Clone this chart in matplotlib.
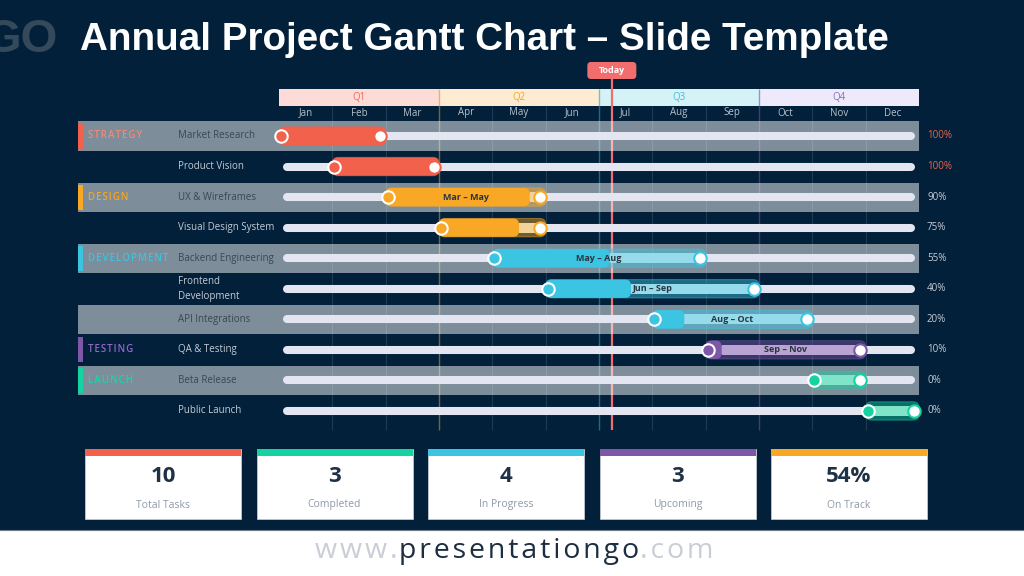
import matplotlib
matplotlib.use('Agg')

import matplotlib.pyplot as plt
from matplotlib.patches import Rectangle, FancyBboxPatch

plt.rcParams['font.family'] = ['Open Sans', 'DejaVu Sans']

BG = '#02203a'

# ---- data ----
tasks = ['Market Research', 'Product Vision', 'UX & Wireframes', 'Visual Design System',
         'Backend Engineering', 'Frontend\nDevelopment', 'API Integrations', 'QA & Testing',
         'Beta Release', 'Public Launch']
phases = ['STRATEGY', 'STRATEGY', 'DESIGN', 'DESIGN', 'DEVELOPMENT', 'DEVELOPMENT',
          'DEVELOPMENT', 'TESTING', 'LAUNCH', 'LAUNCH']
start = [0, 1, 2, 3, 4, 5, 7, 8, 10, 11]      # month index (Jan = 0)
end = [2, 3, 5, 5, 8, 9, 10, 11, 11, 12]
progress = [100, 100, 90, 75, 55, 40, 20, 10, 0, 0]
span_labels = ['', '', 'Mar – May', '', 'May – Aug', 'Jun – Sep', 'Aug – Oct', 'Sep – Nov', '', '']
months = ['Jan', 'Feb', 'Mar', 'Apr', 'May', 'Jun', 'Jul', 'Aug', 'Sep', 'Oct', 'Nov', 'Dec']
quarters = ['Q1', 'Q2', 'Q3', 'Q4']
today = 6.25
stat_values = ['10', '3', '4', '3', '54%']
stat_labels = ['Total Tasks', 'Completed', 'In Progress', 'Upcoming', 'On Track']

# ---- styles ----
col = {'STRATEGY': '#f2614b', 'DESIGN': '#f9a825', 'DEVELOPMENT': '#3cc5e2',
       'TESTING': '#7e57a8', 'LAUNCH': '#14d3a0'}
light = {'STRATEGY': '#f9b3a6', 'DESIGN': '#f3d39a', 'DEVELOPMENT': '#95dbeb',
         'TESTING': '#b9a3d3', 'LAUNCH': '#80e5c8'}
phase_txt = {'STRATEGY': '#f08a78', 'DESIGN': '#f5a524', 'DEVELOPMENT': '#3ec3de',
             'TESTING': '#9068c8', 'LAUNCH': '#1ad6a4'}
q_fill = ['#fddcd7', '#fdecd2', '#d5f2f7', '#eeeafb']
q_text = ['#f2665a', '#f5a623', '#3cc0dc', '#8c6cc6']
q_line = ['#f2665a', '#c8913a', '#3a98b8', '#6a52a8']
stat_colors = ['#f2614b', '#14d3a0', '#3cc5e2', '#7e57a8', '#f9a825']

PXM = 640 / 12.0   # pixels per month
ROW = 30.55        # pixels per row


def mx(px):
    return (px - 279) / PXM


def ry(py):
    return (py - 136) / ROW


fig = plt.figure(figsize=(10.24, 5.76), dpi=100, facecolor=BG)

# overlay axes in pixel units for slide decorations
ov = fig.add_axes([0, 0, 1, 1], zorder=0)
ov.set_xlim(0, 1024)
ov.set_ylim(576, 0)
ov.axis('off')

ov.text(57, 40, 'GO', ha='right', va='center', fontsize=34, fontweight='bold',
        color='#34495a', family=['Liberation Sans', 'DejaVu Sans'])
ov.text(80, 40, 'Annual Project Gantt Chart – Slide Template', ha='left', va='center',
        fontsize=27.8, fontweight='bold', color='white', family=['Liberation Sans', 'DejaVu Sans'])

# stat cards
for i, (v, lab) in enumerate(zip(stat_values, stat_labels)):
    x = 85 + 171.5 * i
    ov.add_patch(Rectangle((x, 449), 156, 70, fc='white', ec='#cfd5dc', lw=0.5))
    ov.add_patch(Rectangle((x, 449), 156, 7, fc=stat_colors[i], ec='none'))
    ov.text(x + 78, 477, v, ha='center', va='center', fontsize=16, fontweight='bold',
            color='#1f3145')
    ov.text(x + 78, 505, lab, ha='center', va='center', fontsize=7.5, color='#8e99a8')

# footer
ov.add_patch(Rectangle((0, 530), 1024, 46, fc='white', ec='none'))
ov.plot([0, 1024], [530, 530], color='#6b7b88', lw=0.8)
r = fig.canvas.get_renderer()
parts = [('www.', '#c9ced6'), ('presentationgo', '#1c2e40'), ('.com', '#c9ced6')]
texts = [ov.text(0, 551, '\u200a'.join(p), ha='left', va='center', fontsize=20.5, color=c)
         for p, c in parts]
widths = [t.get_window_extent(r).width for t in texts]
x = 513 - sum(widths) / 2
for t, w in zip(texts, widths):
    t.set_x(x)
    x += w + 1

# gantt axes: x in months, y in rows
ax = fig.add_axes([60 / 1024, (576 - 432) / 576, 950 / 1024, 376 / 576], zorder=1)
ax.patch.set_visible(False)
ax.set_xlim(mx(60), mx(1010))
ax.set_ylim(ry(432), ry(56))
ax.axis('off')
asp = PXM / ROW

# header
for q in range(4):
    ax.add_patch(Rectangle((3 * q, ry(89)), 3, ry(106) - ry(89), fc=q_fill[q], ec='none', zorder=1))
    ax.text(3 * q + 1.5, ry(98), quarters[q], ha='center', va='center', fontsize=7, color=q_text[q], zorder=2)
for m, name in enumerate(months):
    ax.text(m + 0.5, ry(113), name, ha='center', va='center', fontsize=7, color='#b8c1cb')

# grid
ax.vlines([m for m in range(1, 12) if m % 3], ry(106), ry(430), color='#1d3b53', lw=0.8, zorder=1)
for q in range(1, 4):
    ax.vlines(3 * q, ry(89), ry(430), color=q_line[q], lw=1, alpha=0.6, zorder=1.2)

# today marker
ax.vlines(today, ry(79), ry(430), color='#f26d6d', lw=1.6, zorder=1.5)
ax.add_patch(FancyBboxPatch((today - mx(637) + mx(612), ry(62)), mx(637) - mx(588), ry(79) - ry(62),
                            boxstyle='round,pad=0,rounding_size=0.07', mutation_aspect=asp,
                            fc='#f26d6d', ec='none', zorder=8))
ax.text(today, ry(70.5), 'Today', ha='center', va='center', fontsize=6.5, fontweight='bold',
        color='white', zorder=9)

h = 0.6
seen = set()
for i, task in enumerate(tasks):
    ph = phases[i]
    c = col[ph]
    banded = i % 2 == 0
    if banded:
        ax.add_patch(Rectangle((mx(78), i - 0.475), 12 - mx(78), 0.95, fc='white', alpha=0.49,
                               ec='none', zorder=2))
    if ph not in seen:
        seen.add(ph)
        ax.add_patch(Rectangle((mx(78), i - 0.41), mx(83) - mx(78), 0.82, fc=c, ec='none', zorder=3))
        ax.text(mx(88), i, '\u200a'.join(ph), ha='left', va='center', fontsize=7,
                fontweight='semibold', color=phase_txt[ph], zorder=3)
    ax.text(mx(178), i, task, ha='left', va='center', fontsize=7, linespacing=1.5,
            color='#3a4753' if banded else '#c5ccd5', zorder=3)

    # track
    ax.plot([0.15, 11.85], [i, i], lw=5.8, color='#e3e6f1', solid_capstyle='round', zorder=3)

    s, e, p = start[i], end[i], progress[i]
    # remaining part: translucent outer bar with a light inner band
    ax.add_patch(FancyBboxPatch((s, i - h / 2), e - s, h, boxstyle='round,pad=0,rounding_size=0.11',
                                mutation_aspect=asp, fc=c, ec=c, lw=0.8, alpha=0.45, zorder=4))
    pe = s + (e - s) * p / 100.0
    ax.add_patch(Rectangle((pe, i - h * 0.27), e - 0.1 - pe, h * 0.54, fc=light[ph], ec='none', zorder=4.2))
    if p > 0:
        ax.add_patch(FancyBboxPatch((s, i - h / 2), pe - s, h, boxstyle='round,pad=0,rounding_size=0.11',
                                    mutation_aspect=asp, fc=c, ec='none', zorder=4.5))
    if span_labels[i]:
        ax.text((s + e) / 2, i, span_labels[i], ha='center', va='center', fontsize=6.5,
                fontweight='bold', color='#2a3441', zorder=7)
    ax.scatter([s + 0.04], [i], s=80, c=c, edgecolors='white', linewidths=1.5, zorder=6)
    ax.scatter([e - 0.1], [i], s=80, c='white', edgecolors=c, linewidths=1.5, zorder=6)

    ax.text(mx(927), i, f'{p}%', ha='left', va='center', fontsize=7,
            color='#f2614b' if p == 100 else '#c6cdd6', zorder=3)

plt.savefig('out.png', dpi=100, facecolor=BG)
